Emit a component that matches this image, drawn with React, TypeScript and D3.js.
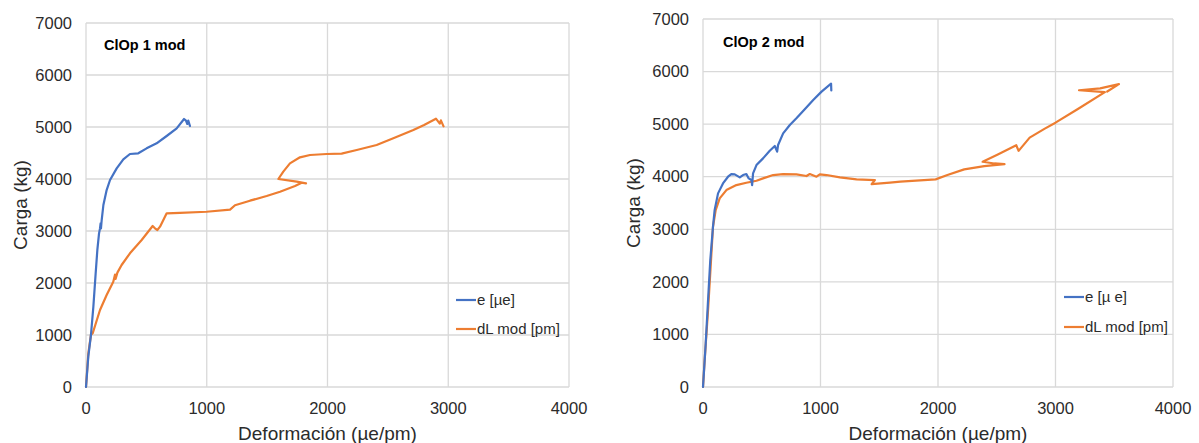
import React from "react";
import * as d3 from "d3";

type Pt = [number, number];

const xTicks = [0, 1000, 2000, 3000, 4000];
const yTicks = [0, 1000, 2000, 3000, 4000, 5000, 6000, 7000];
const seriesNames = ["e [\u00b5e]", "dL mod [pm]"];
const seriesNamesRight = ["e [\u00b5 e]", "dL mod [pm]"];
const chartTitles = ["ClOp 1 mod", "ClOp 2 mod"];
const xTitle = "Deformaci\u00f3n (\u00b5e/pm)";
const yTitle = "Carga (kg)";

// ClOp 1 mod - strain gauge e [µe]
const left_e: Pt[] = [
  [0, 0], [19, 583], [41, 1000], [61, 1545], [80, 2186], [94, 2635], [108, 2955],
  [116, 3050], [121, 3147], [124, 3050], [130, 3211], [144, 3500], [171, 3788],
  [199, 3981], [254, 4205], [309, 4378], [364, 4481], [433, 4494], [502, 4590],
  [585, 4686], [668, 4827], [751, 4974], [812, 5154], [828, 5122], [839, 5058],
  [847, 5122], [861, 5019],
];

// ClOp 1 mod - dL mod [pm]
const left_dL: Pt[] = [
  [0, 0], [19, 641], [41, 1000], [55, 1032], [77, 1192], [116, 1481], [171, 1769],
  [226, 2026], [240, 2160], [245, 2080], [260, 2200], [295, 2346], [364, 2571], [461, 2827],
  [552, 3096], [571, 3051], [591, 3019], [613, 3083], [668, 3340], [778, 3350],
  [999, 3370], [1193, 3410], [1234, 3495], [1358, 3583], [1496, 3673], [1607, 3756],
  [1731, 3865], [1786, 3929], [1822, 3917], [1745, 3949], [1593, 4000], [1634, 4141],
  [1689, 4301], [1772, 4417], [1855, 4462], [1993, 4481], [2117, 4487], [2242, 4558],
  [2407, 4654], [2545, 4782], [2711, 4942], [2800, 5040], [2898, 5160], [2930, 5064],
  [2939, 5128], [2961, 5013],
];

// ClOp 2 mod - strain gauge e [µe]
const right_e: Pt[] = [
  [0, 0], [23, 825], [43, 1651], [62, 2413], [85, 3048], [99, 3365], [128, 3683],
  [170, 3873], [213, 4000], [241, 4051], [270, 4044], [313, 3987], [341, 4032],
  [369, 4051], [389, 3968], [412, 3937], [418, 3841], [426, 4063], [455, 4222],
  [511, 4349], [568, 4495], [611, 4584], [631, 4476], [639, 4603], [682, 4825],
  [739, 4984], [795, 5111], [866, 5283], [938, 5460], [1009, 5619], [1090, 5770],
  [1092, 5640],
];

// ClOp 2 mod - dL mod [pm]
const right_dL: Pt[] = [
  [0, 0], [14, 508], [43, 1460], [65, 2286], [85, 3048], [108, 3365], [142, 3587],
  [199, 3746], [284, 3841], [369, 3886], [455, 3924], [511, 3968], [597, 4032],
  [682, 4051], [795, 4044], [881, 4013], [909, 4051], [966, 4000], [994, 4044],
  [1051, 4032], [1165, 3987], [1307, 3949], [1463, 3937], [1435, 3860], [1591, 3886],
  [1680, 3905], [1980, 3950], [2080, 4032], [2223, 4139], [2394, 4202], [2566, 4240],
  [2480, 4252], [2380, 4284], [2509, 4423], [2666, 4599], [2686, 4492], [2780, 4744],
  [2909, 4915], [3000, 5028], [3194, 5293], [3420, 5610], [3200, 5645], [3380, 5680],
  [3540, 5760], [3440, 5620],
];

const BLUE = "#4472C4";
const ORANGE = "#ED7D31";
const GRID = "#d9d9d9";
const TEXT = "#2b2b2b";
const FONT = "'Liberation Sans', Arial, sans-serif";

type ChartProps = {
  left: number; right: number; top: number; bottom: number;
  title: string; titleX: number; titleY: number;
  e: Pt[]; dL: Pt[];
  legendX: number; legendY: number[]; legendNames: string[];
  yTitleX: number;
};

function Chart(p: ChartProps) {
  const x = d3.scaleLinear().domain([0, 4000]).range([p.left, p.right]);
  const y = d3.scaleLinear().domain([0, 7000]).range([p.bottom, p.top]);
  const line = d3.line<Pt>().x((d) => x(d[0])).y((d) => y(d[1]));
  const cx = (p.left + p.right) / 2;
  const cy = (p.top + p.bottom) / 2;
  return (
    <g fontFamily={FONT}>
      {yTicks.map((t) => (
        <line key={"h" + t} x1={p.left} x2={p.right} y1={y(t)} y2={y(t)} stroke={GRID} strokeWidth={1.3} />
      ))}
      {xTicks.map((t) => (
        <line key={"v" + t} x1={x(t)} x2={x(t)} y1={p.top} y2={p.bottom} stroke={GRID} strokeWidth={1.3} />
      ))}
      {yTicks.map((t) => (
        <text key={"yl" + t} x={p.left - 14} y={y(t)} dy="0.35em" textAnchor="end" fontSize={16.5} fill={TEXT}>
          {t}
        </text>
      ))}
      {xTicks.map((t) => (
        <text key={"xl" + t} x={x(t)} y={p.bottom + 21} dy="0.35em" textAnchor="middle" fontSize={16.5} fill={TEXT}>
          {t}
        </text>
      ))}
      <text x={cx} y={433} dy="0.35em" textAnchor="middle" fontSize={19} fill={TEXT}>
        {xTitle}
      </text>
      <text
        transform={`translate(${p.yTitleX},${cy}) rotate(-90)`}
        dy="0.35em"
        textAnchor="middle"
        fontSize={19}
        fill={TEXT}
      >
        {yTitle}
      </text>
      <text x={p.titleX} y={p.titleY} dy="0.35em" fontSize={14.5} fontWeight="bold" fill="#000">
        {p.title}
      </text>
      <path d={line(p.dL) || ""} fill="none" stroke={ORANGE} strokeWidth={2.2} strokeLinejoin="round" strokeLinecap="round" />
      <path d={line(p.e) || ""} fill="none" stroke={BLUE} strokeWidth={2.2} strokeLinejoin="round" strokeLinecap="round" />
      {[BLUE, ORANGE].map((c, i) => (
        <g key={"lg" + i}>
          <line x1={p.legendX} x2={p.legendX + 20} y1={p.legendY[i]} y2={p.legendY[i]} stroke={c} strokeWidth={2.2} />
          <text x={p.legendX + 21} y={p.legendY[i]} dy="0.35em" fontSize={15} fill={TEXT}>
            {p.legendNames[i]}
          </text>
        </g>
      ))}
    </g>
  );
}

export default function App() {
  return (
    <svg width={1199} height={443} style={{ display: "block", position: "absolute", left: 0, top: 0, background: "#fff" }}>
      <rect width={1199} height={443} fill="#fff" />
      <Chart
        left={86} right={569} top={23} bottom={387}
        title={chartTitles[0]} titleX={104} titleY={45}
        e={left_e} dL={left_dL}
        legendX={456} legendY={[300, 329]} legendNames={seriesNames}
        yTitleX={20}
      />
      <Chart
        left={703} right={1173} top={19} bottom={387}
        title={chartTitles[1]} titleX={723} titleY={42}
        e={right_e} dL={right_dL}
        legendX={1064} legendY={[297, 327]} legendNames={seriesNamesRight}
        yTitleX={633}
      />
    </svg>
  );
}
